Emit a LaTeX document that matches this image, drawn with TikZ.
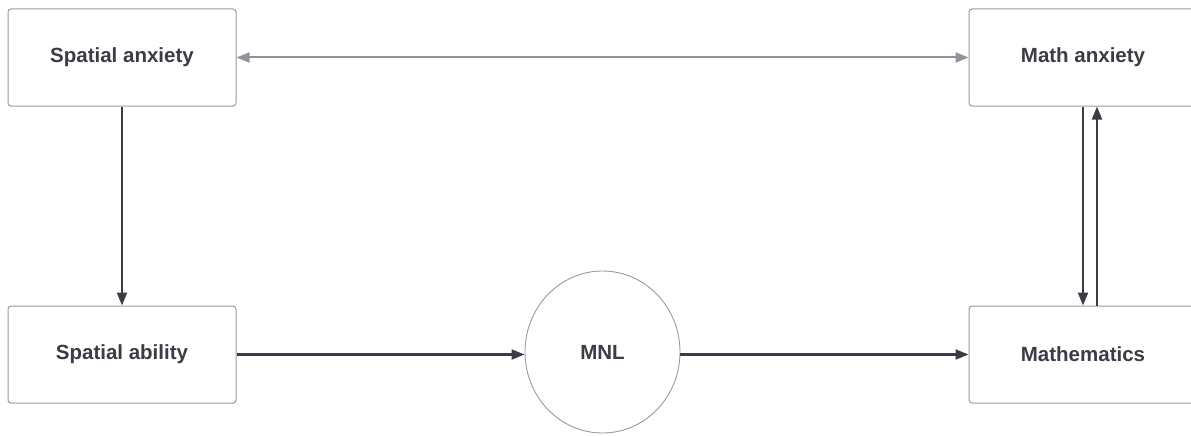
\documentclass[tikz,border=0pt]{standalone}
\usepackage{fontspec}
\setmainfont{Liberation Sans}
\usetikzlibrary{arrows.meta}
\definecolor{inkdark}{HTML}{3A3D45}
\definecolor{inkgray}{HTML}{8E939C}
\definecolor{boxline}{HTML}{9A9A9A}
\tikzset{
  x=1pt, y=-1pt,
  box/.style={draw=boxline, line width=1pt, rounded corners=3pt, fill=white,
    minimum width=228pt, minimum height=97pt, inner sep=0pt,
    font=\fontsize{20.5}{24}\selectfont\bfseries, text=inkdark},
  blob/.style={draw=boxline, line width=0.9pt, ellipse, fill=white,
    minimum width=155pt, minimum height=162pt, inner sep=0pt,
    font=\fontsize{20.5}{24}\selectfont\bfseries, text=inkdark},
  link/.style={draw=inkdark, line width=2.2pt,
    -{Triangle[length=13pt,width=10pt]}},
  softlink/.style={draw=inkgray, line width=2pt,
    {Triangle[length=13pt,width=10pt]}-{Triangle[length=13pt,width=10pt]}},
}
\usetikzlibrary{shapes.geometric}
\begin{document}
\begin{tikzpicture}
  \useasboundingbox (0,0) rectangle (1191,436);
  \begin{scope}
    \clip (0,0) rectangle (1191,436);
    \node[box]  (sanx) at (122,57.5)   {Spatial anxiety};
    \node[box]  (manx) at (1083,57.5)  {Math anxiety};
    \node[box]  (sabl) at (122,354.5)  {Spatial ability};
    \node[box]  (math) at (1083,354.5) {Mathematics};
    \node[blob] (mnl)  at (602.5,352)  {MNL};

    \draw[softlink] (sanx.east) -- (manx.west);
    \draw[link] (sanx.south) -- (sabl.north);
    \draw[link] (sabl.east) -- (mnl.west |- sabl.east);
    \draw[link] (mnl.east |- math.west) -- (math.west);
    \draw[link] ([xshift=0pt]manx.south) -- ([xshift=0pt]math.north);
    \draw[link] ([xshift=14pt]math.north) -- ([xshift=14pt]manx.south);
  \end{scope}
\end{tikzpicture}
\end{document}
